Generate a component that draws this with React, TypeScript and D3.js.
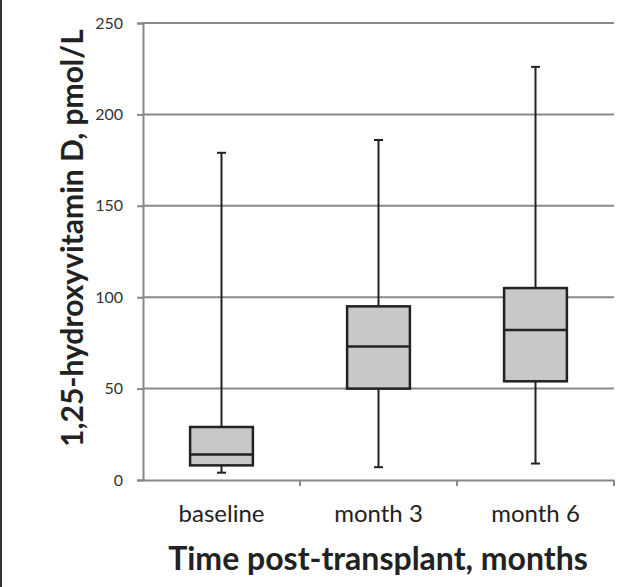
import { useRef, useEffect } from 'react'
import * as d3 from 'd3'

// values
const categories = ['baseline', 'month 3', 'month 6']
const whiskerMax = [179, 186, 226]
const q3 = [29, 95, 105]
const median = [14, 73, 82]
const q1 = [8, 50, 54]
const whiskerMin = [4, 7, 9]
const yTicks = [0, 50, 100, 150, 200, 250]

const font = 'Lato, "Open Sans", sans-serif'

export default function App() {
  const ref = useRef<SVGSVGElement>(null)

  useEffect(() => {
    const svg = d3.select(ref.current)
    svg.selectAll('*').remove()

    const width = 618
    const height = 587
    const margin = { top: 23, right: 4, bottom: 107, left: 143 }

    const x = d3.scaleBand()
      .domain(categories)
      .range([margin.left, width - margin.right])
    const y = d3.scaleLinear()
      .domain([0, 250])
      .range([height - margin.bottom, margin.top])

    // frame line on the left edge
    svg.append('line')
      .attr('x1', 1).attr('x2', 1)
      .attr('y1', 0).attr('y2', height)
      .attr('stroke', '#333').attr('stroke-width', 2)

    // gridlines + y axis
    const yAxis = svg.append('g')
      .attr('transform', `translate(${margin.left},0)`)
      .call(d3.axisLeft(y).tickValues(yTicks).tickSize(6).tickPadding(14))
    yAxis.select('.domain').attr('stroke', '#888').attr('stroke-width', 2)
    yAxis.selectAll('.tick line').attr('stroke', '#888').attr('stroke-width', 2)
    yAxis.selectAll('.tick text')
      .attr('fill', '#333')
      .style('font-family', font)
      .style('font-size', '16px')

    svg.append('g')
      .selectAll('line')
      .data(yTicks.filter(d => d > 0))
      .join('line')
      .attr('x1', margin.left).attr('x2', width - margin.right)
      .attr('y1', d => y(d)).attr('y2', d => y(d))
      .attr('stroke', '#888').attr('stroke-width', 2)

    // x axis
    const xAxis = svg.append('g')
      .attr('transform', `translate(0,${y(0)})`)
      .call(d3.axisBottom(x).tickSize(0).tickPadding(25))
    xAxis.select('.domain').attr('stroke', '#888').attr('stroke-width', 2)
    xAxis.selectAll('.tick text')
      .attr('fill', '#222')
      .style('font-family', font)
      .style('font-size', '24px')

    // tick marks between categories
    const bounds = categories.map(c => (x(c) as number) + x.bandwidth())
    svg.append('g')
      .selectAll('line')
      .data(bounds)
      .join('line')
      .attr('x1', d => d).attr('x2', d => d)
      .attr('y1', y(0)).attr('y2', y(0) + 6)
      .attr('stroke', '#888').attr('stroke-width', 2)

    // boxes
    const boxW = x.bandwidth() * 0.4
    const capW = 9
    const g = svg.append('g')
    categories.forEach((c, i) => {
      const cx = (x(c) as number) + x.bandwidth() / 2
      g.append('line')
        .attr('x1', cx).attr('x2', cx)
        .attr('y1', y(whiskerMax[i])).attr('y2', y(whiskerMin[i]))
        .attr('stroke', '#222').attr('stroke-width', 2)
      ;[whiskerMax[i], whiskerMin[i]].forEach(v => {
        g.append('line')
          .attr('x1', cx - capW / 2).attr('x2', cx + capW / 2)
          .attr('y1', y(v)).attr('y2', y(v))
          .attr('stroke', '#222').attr('stroke-width', 2)
      })
      g.append('rect')
        .attr('x', cx - boxW / 2)
        .attr('y', y(q3[i]))
        .attr('width', boxW)
        .attr('height', y(q1[i]) - y(q3[i]))
        .attr('fill', '#c8c8c8')
        .attr('stroke', '#222').attr('stroke-width', 2.5)
      g.append('line')
        .attr('x1', cx - boxW / 2).attr('x2', cx + boxW / 2)
        .attr('y1', y(median[i])).attr('y2', y(median[i]))
        .attr('stroke', '#222').attr('stroke-width', 2.5)
    })

    // axis titles
    svg.append('text')
      .attr('transform', `translate(83,238) rotate(-90)`)
      .attr('text-anchor', 'middle')
      .attr('fill', '#222')
      .style('font-family', font)
      .style('font-weight', 'bold')
      .style('font-size', '30px')
      .text('1,25-hydroxyvitamin D, pmol/L')

    svg.append('text')
      .attr('x', 378)
      .attr('y', 570)
      .attr('text-anchor', 'middle')
      .attr('fill', '#222')
      .style('font-family', font)
      .style('font-weight', 'bold')
      .style('font-size', '32px')
      .text('Time post-transplant, months')
  }, [])

  return (
    <svg ref={ref} width={618} height={587}
      style={{ position: 'absolute', left: 0, top: 0, background: '#fff' }} />
  )
}
